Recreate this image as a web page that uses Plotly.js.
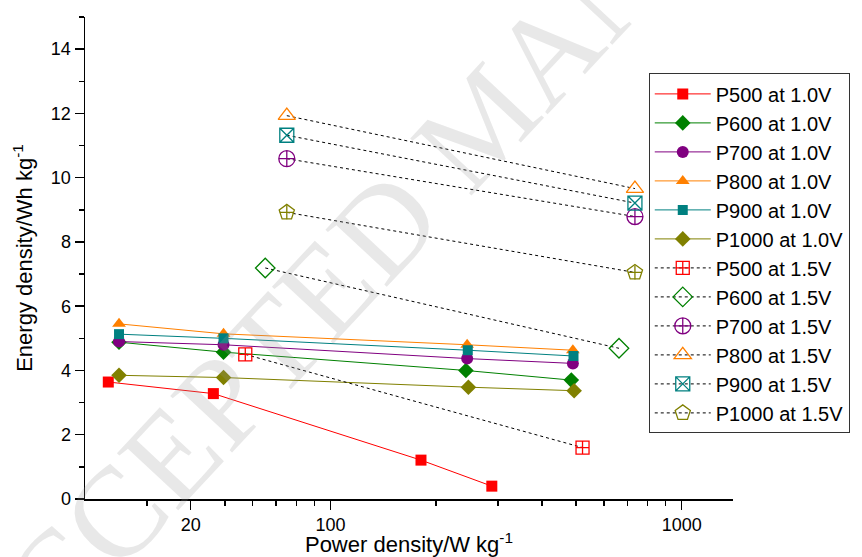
<!DOCTYPE html>
<html>
<head>
<meta charset="utf-8">
<script src="https://cdn.plot.ly/plotly-3.0.1.min.js"></script>
<style>html,body{margin:0;padding:0;background:#fff;}#chart{width:862px;height:557px;}</style>
</head>
<body>
<div id="chart"></div>
<script>
// ---- data ----
const seriesNames10 = ['P500 at 1.0V','P600 at 1.0V','P700 at 1.0V','P800 at 1.0V','P900 at 1.0V','P1000 at 1.0V'];
const seriesNames15 = ['P500 at 1.5V','P600 at 1.5V','P700 at 1.5V','P800 at 1.5V','P900 at 1.5V','P1000 at 1.5V'];

const p500_10_x = [23.3, 46.4, 181, 288];
const p500_10_y = [3.64, 3.28, 1.21, 0.40];
const p600_10_x = [25, 49.6, 243, 485];
const p600_10_y = [4.88, 4.57, 4.00, 3.70];
const p700_10_x = [25, 49.6, 245, 490];
const p700_10_y = [4.90, 4.80, 4.37, 4.22];
const p800_10_x = [25, 49.6, 245, 490];
const p800_10_y = [5.45, 5.14, 4.80, 4.63];
const p900_10_x = [25, 49.6, 246, 492];
const p900_10_y = [5.13, 5.00, 4.63, 4.45];
const p1000_10_x = [25, 49.6, 247, 494];
const p1000_10_y = [3.85, 3.78, 3.48, 3.37];

const p500_15_x = [57.2, 522];
const p500_15_y = [4.50, 1.60];
const p600_15_x = [65.2, 663];
const p600_15_y = [7.19, 4.69];
const p700_15_x = [75.1, 736];
const p700_15_y = [10.59, 8.79];
const p800_15_x = [75.1, 736];
const p800_15_y = [11.93, 9.66];
const p900_15_x = [75.1, 736];
const p900_15_y = [11.32, 9.21];
const p1000_15_x = [75.1, 736];
const p1000_15_y = [8.92, 7.05];

const xTickVals = [40, 100, 1000];
const xTickText = ['20', '100', '1000'];
const xMinorVals = [30, 50, 60, 70, 80, 90, 200, 300, 400, 500, 600, 700, 800, 900];

const xTitle = 'Power density/W kg<sup>-1</sup>';
const yTitle = 'Energy density/Wh kg<sup>-1</sup>';
const watermarkText = 'ACCEPTED MANUSCRIPT';

// ---- styles ----
const colors = ['#FF0000', '#008000', '#800080', '#FF8000', '#008080', '#808000'];
const sym10 = ['square', 'diamond', 'circle', 'triangle-up', 'square', 'diamond'];
const size10 = [11, 12, 12, 12, 10, 12];
const sym15 = ['square-cross-open', 'diamond-open', 'circle-cross-open', 'triangle-up-open', 'square-x-open', 'pentagon-open'];
const size15 = [13, 15, 16, 15, 14, 16];
const NB = '\u00A0';

const xs10 = [p500_10_x, p600_10_x, p700_10_x, p800_10_x, p900_10_x, p1000_10_x];
const ys10 = [p500_10_y, p600_10_y, p700_10_y, p800_10_y, p900_10_y, p1000_10_y];
const xs15 = [p500_15_x, p600_15_x, p700_15_x, p800_15_x, p900_15_x, p1000_15_x];
const ys15 = [p500_15_y, p600_15_y, p700_15_y, p800_15_y, p900_15_y, p1000_15_y];

const traces = [];
for (let i = 0; i < 6; i++) {
  traces.push({
    type: 'scatter', mode: 'lines+markers', name: seriesNames10[i],
    x: xs10[i], y: ys10[i],
    line: {color: colors[i], width: 1},
    marker: {symbol: sym10[i], size: size10[i], color: colors[i], line: {width: 0}}
  });
}
for (let i = 0; i < 6; i++) {
  traces.push({
    type: 'scatter', mode: 'lines+markers', name: seriesNames15[i],
    x: xs15[i], y: ys15[i],
    line: {color: '#000000', width: 1, dash: 'dot'},
    marker: {symbol: sym15[i], size: size15[i], color: colors[i], line: {width: 1.3, color: colors[i]}}
  });
}
// cross inside the pentagon markers
traces.push({
  type: 'scatter', mode: 'markers', showlegend: false, hoverinfo: 'skip',
  x: p1000_15_x, y: p1000_15_y,
  marker: {symbol: 'cross-thin-open', size: 10, color: colors[5], line: {width: 1.3, color: colors[5]}}
});

const font = 'Liberation Sans, Arial, sans-serif';
const layout = {
  width: 862, height: 557,
  margin: {l: 85, r: 129, t: 17, b: 58, pad: 0},
  paper_bgcolor: '#ffffff', plot_bgcolor: '#ffffff',
  font: {family: font, color: '#000000', size: 18},
  showlegend: true,
  legend: {
    x: 0.870, y: 0.883, xanchor: 'left', yanchor: 'top',
    bgcolor: '#ffffff', bordercolor: '#333333', borderwidth: 1,
    font: {family: font, size: 20, color: '#000000'},
    itemwidth: 56, tracegroupgap: 0
  },
  xaxis: {
    type: 'log', range: [Math.log10(20), Math.log10(1400)],
    tickmode: 'array', tickvals: xTickVals, ticktext: xTickText,
    ticks: 'outside', ticklen: 9, tickwidth: 1.5, tickcolor: '#000',
    minor: {tickmode: 'array', tickvals: xMinorVals, ticks: 'outside', ticklen: 5, tickwidth: 1.5, tickcolor: '#000', showgrid: false},
    showline: true, linewidth: 1.5, linecolor: '#000',
    showgrid: false, zeroline: false,
    tickfont: {family: font, size: 18, color: '#000'},
    title: {text: NB.repeat(3) + xTitle, font: {family: font, size: 22, color: '#000'}, standoff: 4}
  },
  yaxis: {
    range: [0, 15], tick0: 0, dtick: 2,
    ticks: 'outside', ticklen: 9, tickwidth: 1.5, tickcolor: '#000',
    minor: {tick0: 0, dtick: 1, ticks: 'outside', ticklen: 5, tickwidth: 1.5, tickcolor: '#000', showgrid: false},
    showline: true, linewidth: 1.5, linecolor: '#000',
    showgrid: false, zeroline: false,
    tickfont: {family: font, size: 18, color: '#000'},
    title: {text: yTitle + NB.repeat(5), font: {family: font, size: 22, color: '#000'}, standoff: 12}
  },
  annotations: [{
    xref: 'paper', yref: 'paper', x: 0.613, y: 0.785, xanchor: 'center', yanchor: 'middle',
    text: watermarkText, showarrow: false, textangle: -47,
    font: {family: 'Liberation Serif, serif', size: 128, color: 'rgba(150,150,150,0.22)'}
  }]
};

Plotly.newPlot('chart', traces, layout, {displayModeBar: false, staticPlot: true});
</script>
</body>
</html>
